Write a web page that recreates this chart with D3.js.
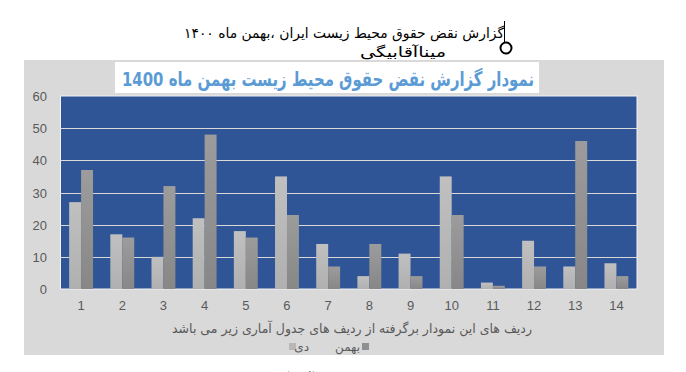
<!DOCTYPE html>
<meta charset="utf-8">
<style>
body { margin: 0; background: #fff; }
.fa { font-family: "DejaVu Sans", sans-serif; }
.num { font-family: "Liberation Sans", Arial, sans-serif; fill: #595959; font-size: 13px; }
</style>
<svg width="686" height="372"></svg>
<script src="https://d3js.org/d3.v7.min.js"></script>
<script>

// داده ها
var categories = ["1","2","3","4","5","6","7","8","9","10","11","12","13","14"];
var seriesNames = ["دی", "بهمن"];
var dey    = [27, 17, 10, 22, 18, 35, 14, 4, 11, 35, 2, 15, 7, 8];
var bahman = [37, 16, 32, 48, 16, 23, 7, 14, 4, 23, 1, 7, 46, 4];
var yTicks = [0, 10, 20, 30, 40, 50, 60];

var chartTitle = "نمودار گزارش نقض حقوق محیط زیست بهمن ماه 1400";
var axisTitle = "ردیف های این نمودار برگرفته از ردیف های جدول آماری زیر می باشد";

var svg = d3.select("svg"),
    width = +svg.attr("width"),
    height = +svg.attr("height");

// gradients for the bars
var defs = svg.append("defs");
function grad(id, c1, c2) {
  var g = defs.append("linearGradient").attr("id", id)
      .attr("x1", 0).attr("y1", 0).attr("x2", 0).attr("y2", 1);
  g.append("stop").attr("offset", "0%").attr("stop-color", c1);
  g.append("stop").attr("offset", "100%").attr("stop-color", c2);
}
grad("gLight", "#c0c0c0", "#b0b0b0");
grad("gDark", "#9c9c9c", "#878787");

// header text above the chart
svg.append("text").attr("class", "fa")
    .attr("x", 344).attr("y", 38)
    .attr("text-anchor", "middle").attr("direction", "rtl")
    .attr("textLength", 320).attr("lengthAdjust", "spacingAndGlyphs")
    .style("font-size", "14px").style("fill", "#000")
    .text("گزارش نقض حقوق محیط زیست ایران ،بهمن ماه ۱۴۰۰");
svg.append("text").attr("class", "fa")
    .attr("x", 403).attr("y", 57)
    .attr("text-anchor", "middle").attr("direction", "rtl")
    .attr("textLength", 86).attr("lengthAdjust", "spacingAndGlyphs")
    .style("font-size", "14px").style("fill", "#000")
    .text("میناآقابیگی");
svg.append("line")
    .attr("x1", 504.5).attr("x2", 504.5).attr("y1", 21).attr("y2", 42)
    .attr("stroke", "#000").attr("stroke-width", 1);
svg.append("circle")
    .attr("cx", 506).attr("cy", 48).attr("r", 5.5)
    .attr("fill", "#fff").attr("stroke", "#000").attr("stroke-width", 2);

// chart area
svg.append("rect")
    .attr("x", 24).attr("y", 60).attr("width", 640).attr("height", 295)
    .attr("fill", "#d9d9d9");

// title box
svg.append("rect")
    .attr("x", 115).attr("y", 62).attr("width", 424).attr("height", 31)
    .attr("fill", "#fff");
svg.append("text").attr("class", "fa")
    .attr("x", 328).attr("y", 86)
    .attr("text-anchor", "middle").attr("direction", "rtl")
    .attr("textLength", 412).attr("lengthAdjust", "spacingAndGlyphs")
    .style("font-size", "20px").style("font-weight", "bold").style("fill", "#5b9bd5")
    .text(chartTitle);

var plot = { left: 60.5, right: 637, top: 96, bottom: 289 };

var x = d3.scaleBand()
    .domain(categories)
    .range([plot.left, plot.right])
    .paddingInner(0.42)
    .paddingOuter(0.21);

var xs = d3.scaleBand()
    .domain(seriesNames)
    .range([0, x.bandwidth()]);

var y = d3.scaleLinear()
    .domain([0, 60])
    .range([plot.bottom, plot.top]);

// plot background
svg.append("rect")
    .attr("x", plot.left).attr("y", plot.top)
    .attr("width", plot.right - plot.left).attr("height", plot.bottom - plot.top)
    .attr("fill", "#2f5597")
    .attr("stroke", "#f2f2f2").attr("stroke-width", 1);

// gridlines
svg.append("g").selectAll("line")
    .data(yTicks.filter(function(d) { return d > 0 && d < 60; }))
    .enter().append("line")
      .attr("x1", plot.left).attr("x2", plot.right)
      .attr("y1", function(d) { return Math.round(y(d)) + 0.5; })
      .attr("y2", function(d) { return Math.round(y(d)) + 0.5; })
      .attr("stroke", "#d9d9d9").attr("stroke-width", 1);

// bars
var rows = categories.map(function(c, i) {
  return { cat: c, values: [{ s: "دی", v: dey[i] }, { s: "بهمن", v: bahman[i] }] };
});

var groups = svg.append("g").selectAll("g")
    .data(rows)
    .enter().append("g")
      .attr("transform", function(d) { return "translate(" + x(d.cat) + ",0)"; });

groups.selectAll("rect")
    .data(function(d) { return d.values; })
    .enter().append("rect")
      .attr("x", function(d) { return xs(d.s); })
      .attr("width", xs.bandwidth())
      .attr("y", function(d) { return y(d.v); })
      .attr("height", function(d) { return y(0) - y(d.v); })
      .attr("fill", function(d) { return d.s === "دی" ? "url(#gLight)" : "url(#gDark)"; });

// y axis
var yAxis = svg.append("g")
    .attr("transform", "translate(47,0)")
    .call(d3.axisLeft(y).tickValues(yTicks).tickSize(0).tickPadding(0));
yAxis.select(".domain").remove();
yAxis.selectAll("text").attr("class", "num").attr("dy", "0.35em");

// x axis
var xAxis = svg.append("g")
    .attr("transform", "translate(0," + plot.bottom + ")")
    .call(d3.axisBottom(x).tickSize(0).tickPadding(12));
xAxis.select(".domain").remove();
xAxis.selectAll("text").attr("class", "num");

// axis title
svg.append("text").attr("class", "fa")
    .attr("x", 352).attr("y", 333)
    .attr("text-anchor", "middle").attr("direction", "rtl")
    .attr("textLength", 360).attr("lengthAdjust", "spacingAndGlyphs")
    .style("font-size", "13px").style("fill", "#595959")
    .text(axisTitle);

// legend
var legendItems = [
  { name: "دی", fill: "#b7b7b7", sq: 289, tx: 309 },
  { name: "بهمن", fill: "#8f8f8f", sq: 362, tx: 360 }
];
legendItems.forEach(function(d) {
  svg.append("rect")
      .attr("x", d.sq).attr("y", 343).attr("width", 7).attr("height", 7)
      .attr("fill", d.fill);
  svg.append("text").attr("class", "fa")
      .attr("x", d.tx).attr("y", 351)
      .attr("text-anchor", "end")
      .style("font-size", "12px").style("fill", "#595959")
      .text(d.name);
});

// cut-off line at the bottom of the page
svg.append("text").attr("class", "fa")
    .attr("x", 342).attr("y", 384)
    .attr("text-anchor", "middle").attr("direction", "rtl")
    .style("font-size", "14px").style("fill", "#000")
    .text("تهیه و تنظیم: میناآقابیگی");

</script>
